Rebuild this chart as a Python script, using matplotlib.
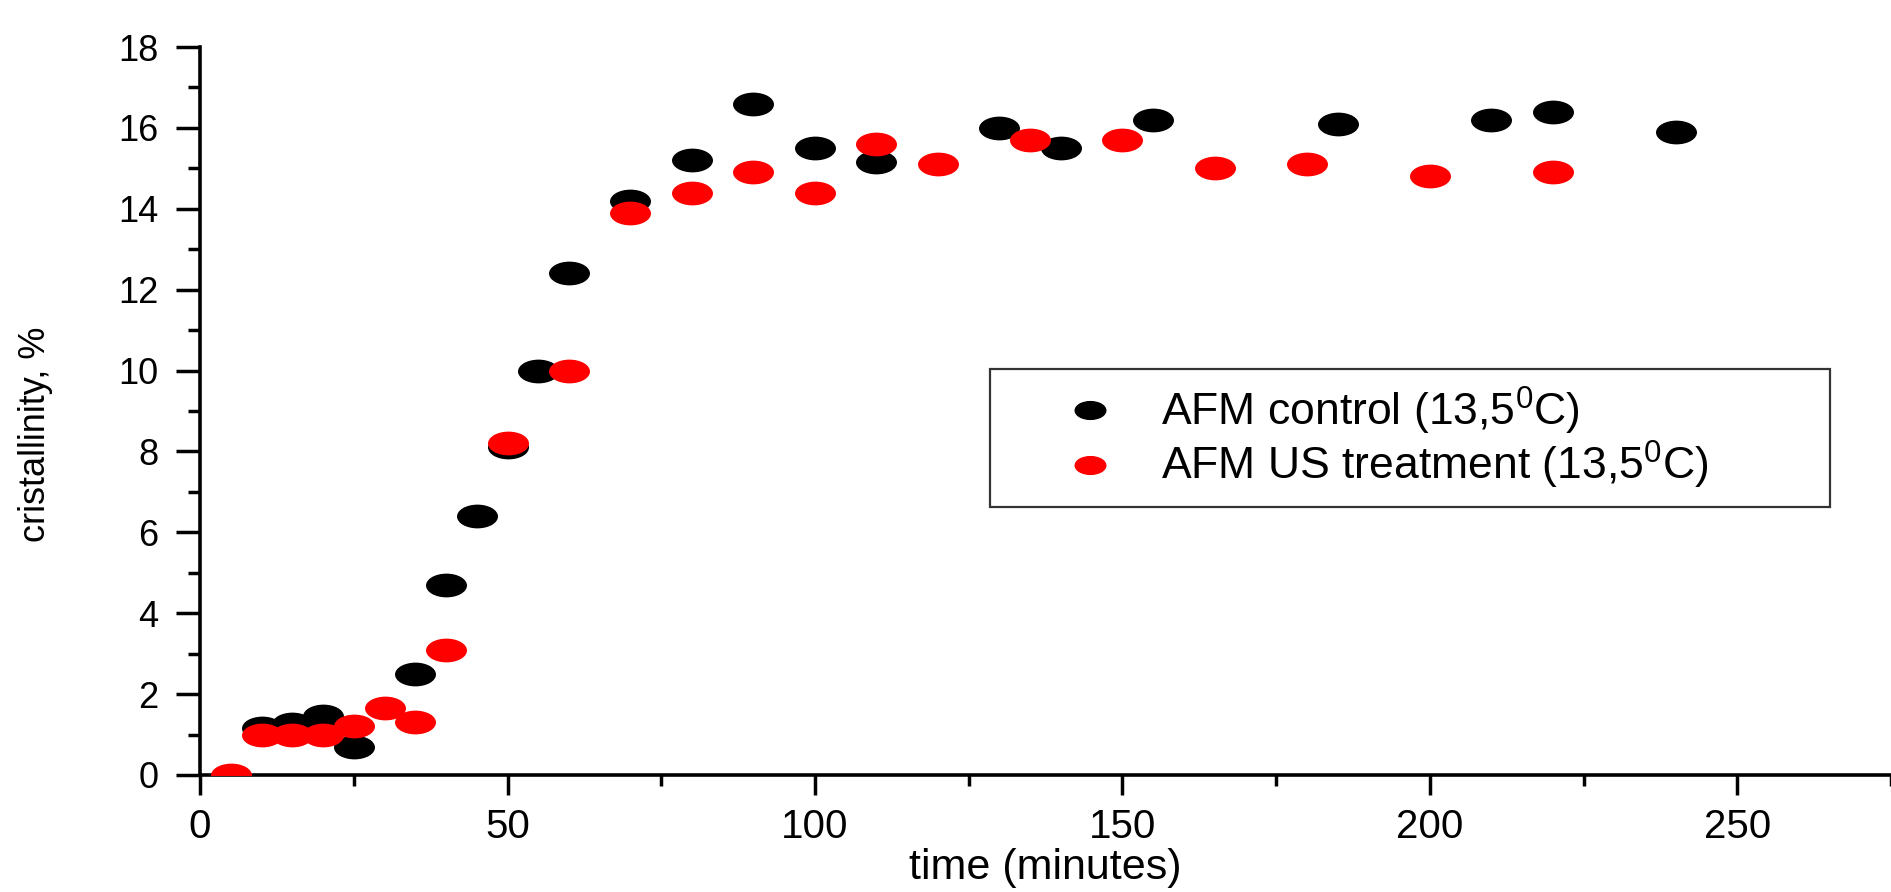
"""
Crystallinity vs time scatter: AFM control vs AFM US treatment at 13.5 C.
"""
import matplotlib
matplotlib.use("Agg")
import matplotlib.pyplot as plt
from matplotlib.path import Path
from matplotlib.transforms import Affine2D
from matplotlib.lines import Line2D
from matplotlib.ticker import MultipleLocator

plt.rcParams["font.family"] = ["Liberation Sans", "DejaVu Sans"]
plt.rcParams["mathtext.default"] = "regular"

# ── data ─────────────────────────────────────────────────────────────────────
control_time = [10, 15, 20, 25, 35, 40, 45, 50, 55, 60, 70, 80, 90, 100,
                110, 130, 140, 155, 185, 210, 220, 240]
control_cryst = [1.15, 1.25, 1.45, 0.7, 2.5, 4.7, 6.4, 8.1, 10.0, 12.4, 14.2,
                 15.2, 16.6, 15.5, 15.15, 16.0, 15.5, 16.2, 16.1, 16.2, 16.4, 15.9]

us_time = [5, 10, 15, 20, 25, 30, 35, 40, 50, 60, 70, 80, 90, 100, 110,
           120, 135, 150, 165, 180, 200, 220]
us_cryst = [0.0, 1.0, 1.0, 1.0, 1.2, 1.65, 1.3, 3.1, 8.2, 10.0, 13.9, 14.4,
            14.9, 14.4, 15.6, 15.1, 15.7, 15.7, 15.0, 15.1, 14.8, 14.9]

labels = ["AFM control (13,5$^{0}$C)", "AFM US treatment (13,5$^{0}$C)"]
colors = ["#000000", "#ff0000"]

# squashed circle: the original figure was stretched horizontally
ellipse = Path.unit_circle().transformed(Affine2D().scale(1.0, 0.58))

fig = plt.figure(figsize=(18.91, 8.92), dpi=100)
ax = fig.add_axes([0.1058, 0.1312, 0.8942, 0.8161])

ax.scatter(control_time, control_cryst, marker=ellipse, s=29.5 ** 2,
           color=colors[0], linewidths=0, zorder=3)
ax.scatter(us_time, us_cryst, marker=ellipse, s=29.5 ** 2,
           color=colors[1], linewidths=0, zorder=4)

ax.set_xlim(0, 275)
ax.set_ylim(0, 18)
ax.xaxis.set_major_locator(MultipleLocator(50))
ax.xaxis.set_minor_locator(MultipleLocator(25))
ax.yaxis.set_major_locator(MultipleLocator(2))
ax.yaxis.set_minor_locator(MultipleLocator(1))

for side in ("top", "right"):
    ax.spines[side].set_visible(False)
for side in ("left", "bottom"):
    ax.spines[side].set_linewidth(2.6)

ax.tick_params(axis="y", which="major", direction="out", length=17, width=2.5,
               labelsize=26, pad=13)
ax.tick_params(axis="y", which="minor", direction="out", length=9, width=2.5)
ax.tick_params(axis="x", which="major", direction="out", length=14.5, width=2.5,
               labelsize=29, pad=9)
ax.tick_params(axis="x", which="minor", direction="out", length=8, width=2.5)

ax.set_xlabel("time (minutes)", fontsize=31)
ax.xaxis.set_label_coords(0.5, -0.1)
ax.set_ylabel("cristallinity, %", fontsize=26)
ax.yaxis.set_label_coords(-0.087, 0.468)

handles = [Line2D([], [], linestyle="none", marker=ellipse, markersize=22,
                  markerfacecolor=c, markeredgecolor=c) for c in colors]
leg = ax.legend(handles, labels, loc="upper left",
                bbox_to_anchor=(0.467, 0.557, 0.497, 0.0), mode="expand",
                borderaxespad=0, fontsize=32, handlelength=3.8,
                handletextpad=-0.3, labelspacing=0.05, borderpad=0.35,
                frameon=True, fancybox=False, edgecolor="black")
leg.get_frame().set_linewidth(1.6)

fig.savefig("out.png", dpi=100)
